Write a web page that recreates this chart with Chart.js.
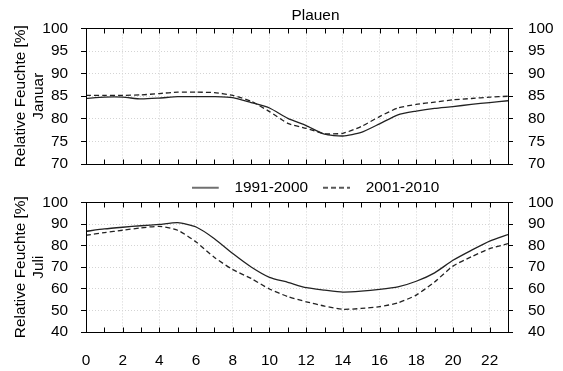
<!DOCTYPE html>
<html lang="de">
<head>
<meta charset="UTF-8">
<title>Plauen – Relative Feuchte</title>
<script src="https://cdn.jsdelivr.net/npm/chart.js@4/dist/chart.umd.min.js"></script>
<style>
    body { margin: 0; background: #fff; }
    #wrap { position: relative; width: 563px; height: 371px; }
    #wrap canvas { position: absolute; left: 0; top: 0; }
</style>
</head>
<body>
<div id="wrap">
    <canvas id="janChart" width="563" height="371"></canvas>
    <canvas id="julChart" width="563" height="371"></canvas>
</div>
<script>
// Stunde des Tages
var hours = [0, 1, 2, 3, 4, 5, 6, 7, 8, 9, 10, 11, 12, 13, 14, 15, 16, 17, 18, 19, 20, 21, 22, 23];
var seriesNames = ['1991-2000', '2001-2010'];

// Januar, relative Feuchte [%]
var jan9100 = [84.5, 84.8, 84.8, 84.4, 84.6, 84.9, 84.9, 84.9, 84.7, 83.6, 82.4, 80.1,
               78.5, 76.6, 76.2, 77.0, 78.9, 80.9, 81.7, 82.3, 82.7, 83.2, 83.6, 84.0];
var jan0110 = [85.2, 85.2, 85.2, 85.3, 85.6, 85.9, 85.9, 85.8, 85.2, 83.9, 81.6, 79.0,
               77.9, 76.7, 76.8, 78.3, 80.5, 82.4, 83.2, 83.7, 84.2, 84.5, 84.8, 85.0];

// Juli, relative Feuchte [%]
var jul9100 = [86.6, 87.7, 88.5, 89.2, 89.8, 90.6, 88.6, 83.2, 76.3, 70.1, 65.3, 63.0,
               60.5, 59.4, 58.5, 58.9, 59.7, 60.9, 63.5, 67.4, 73.2, 77.8, 82.1, 85.1];
var jul0110 = [84.8, 86.0, 87.1, 88.2, 88.9, 87.1, 81.7, 74.5, 68.9, 64.8, 59.9, 56.4,
               54.0, 52.0, 50.5, 50.9, 51.7, 53.5, 57.1, 63.2, 70.5, 74.8, 78.6, 80.9];

var FS = 15.4;
var LINE = '#222';
var DASH = [5, 3];
Chart.defaults.font.family = "'Liberation Sans', Arial, sans-serif";
Chart.defaults.font.size = FS;
Chart.defaults.color = '#000';

function toXY(vals) {
    return vals.map(function (v, i) { return { x: hours[i], y: v }; });
}

// kleines Legendensymbol: Linie links, etwas Luft rechts
function legendSymbol(dash) {
    var c = document.createElement('canvas');
    c.width = 35; c.height = 4;
    var g = c.getContext('2d');
    g.strokeStyle = LINE; g.lineWidth = 1.3;
    g.setLineDash(dash);
    g.beginPath(); g.moveTo(0, 2); g.lineTo(27, 2); g.stroke();
    return c;
}

function makeDatasets(a, b) {
    return [
        { label: seriesNames[0], data: toXY(a), borderColor: LINE, borderWidth: 1.3,
          pointRadius: 0, pointStyle: legendSymbol([]), tension: 0.2, fill: false },
        { label: seriesNames[1], data: toXY(b), borderColor: LINE, borderWidth: 1.3,
          borderDash: DASH, pointRadius: 0, pointStyle: legendSymbol(DASH), tension: 0.2, fill: false }
    ];
}

// Rahmen und nach innen zeigende Stunden-Ticks
var frame = {
    id: 'frame',
    afterDatasetsDraw: function (chart) {
        var ctx = chart.ctx, a = chart.chartArea, x = chart.scales.x;
        var l = Math.round(a.left) + 0.5, r = Math.round(a.right) + 0.5;
        var t = Math.round(a.top) + 0.5, b = Math.round(a.bottom) + 0.5;
        ctx.save();
        ctx.strokeStyle = '#000';
        ctx.lineWidth = 1;
        ctx.strokeRect(l, t, r - l, b - t);
        ctx.beginPath();
        x.ticks.forEach(function (tk) {
            var px = Math.round(x.getPixelForValue(tk.value)) + 0.5;
            ctx.moveTo(px, t); ctx.lineTo(px, t + 5);
            ctx.moveTo(px, b); ctx.lineTo(px, b - 5);
        });
        ctx.stroke();
        ctx.restore();
    }
};

// Legende/Titel über der Plotmitte des Originals ausrichten
var shiftBlocks = {
    id: 'shiftBlocks',
    afterLayout: function (chart) {
        if (chart.legend && chart.options.plugins.legend.display) {
            chart.legend.left += 34; chart.legend.right += 34;
            chart.legend.top += 3; chart.legend.bottom += 3;
        }
        if (chart.titleBlock && chart.options.plugins.title.display) {
            chart.titleBlock.left += 34; chart.titleBlock.right += 34;
        }
    }
};

function yScales(min, max, step, major, month) {
    var common = {
        min: min, max: max,
        ticks: {
            stepSize: step, padding: 13,
            callback: function (v) { return v % major === 0 ? v : ''; }
        },
        border: { display: false, dash: [1, 2] },
        grid: {
            tickLength: 5, tickColor: '#000', drawTicks: true,
            color: function (c) { return c.tick && c.tick.value % major === 0 ? '#d4d4d4' : 'rgba(0,0,0,0)'; }
        }
    };
    var left = Object.assign({}, common, {
        position: 'left',
        afterFit: function (s) { s.width = 86; },
        title: {
            display: true, text: ['Relative Feuchte [%]', month],
            font: { size: FS, lineHeight: 1.13 }, padding: { top: 12.3, bottom: 0 }
        }
    });
    var right = Object.assign({}, common, {
        position: 'right',
        afterFit: function (s) { s.width = 55; },
        ticks: Object.assign({}, common.ticks, { padding: 15 }),
        grid: { tickLength: 5, tickColor: '#000', drawOnChartArea: false }
    });
    return { y: left, y2: right };
}

function xScale(showLabels, height) {
    return {
        type: 'linear', min: 0, max: 23,
        ticks: {
            display: showLabels, stepSize: 1, padding: 20, maxRotation: 0, autoSkip: false,
            callback: function (v) { return v % 2 === 0 ? v : ''; }
        },
        border: { display: false, dash: [1, 2] },
        grid: {
            drawTicks: false,
            color: function (c) { return c.tick && c.tick.value % 2 === 0 ? '#d4d4d4' : 'rgba(0,0,0,0)'; }
        },
        afterFit: function (s) { s.height = height; }
    };
}

var janScales = yScales(70, 100, 2.5, 5, 'Januar');
janScales.x = xScale(false, 0);

new Chart(document.getElementById('janChart'), {
    type: 'line',
    data: { datasets: makeDatasets(jan9100, jan0110) },
    options: {
        responsive: false, animation: false,
        layout: { padding: { top: 0, bottom: 207, left: 0, right: 0 } },
        scales: janScales,
        plugins: {
            legend: { display: false },
            tooltip: { enabled: false },
            title: { display: true, text: 'Plauen', color: '#000',
                     font: { size: FS, weight: 'normal' }, padding: { top: 7, bottom: 3 } }
        }
    },
    plugins: [frame, shiftBlocks]
});

var julScales = yScales(40, 100, 5, 10, 'Juli');
julScales.x = xScale(true, 39);

new Chart(document.getElementById('julChart'), {
    type: 'line',
    data: { datasets: makeDatasets(jul9100, jul0110) },
    options: {
        responsive: false, animation: false,
        layout: { padding: { top: 162, bottom: 0, left: 0, right: 0 } },
        scales: julScales,
        plugins: {
            title: { display: false },
            tooltip: { enabled: false },
            legend: {
                display: true, position: 'top',
                labels: { usePointStyle: true, pointStyleWidth: 35,
                          padding: 15, color: '#000', font: { size: FS } }
            }
        }
    },
    plugins: [frame, shiftBlocks]
});
</script>
</body>
</html>
